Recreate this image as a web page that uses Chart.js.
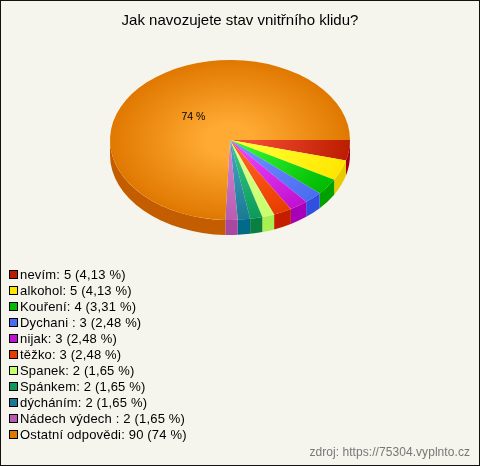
<!DOCTYPE html>
<html>
<head>
<meta charset="utf-8">
<script src="https://cdn.jsdelivr.net/npm/chart.js@4"></script>
<style>
  html, body { margin: 0; padding: 0; background: #f5f5ed; }
  canvas { display: block; }
</style>
</head>
<body>
<canvas id="pie" width="480" height="466"></canvas>
<script>
const chartTitle = 'Jak navozujete stav vnitřního klidu?';
const sourceText = 'zdroj: https://75304.vyplnto.cz';
const categories = ['nevím', 'alkohol', 'Kouření', 'Dychani ', 'nijak', 'těžko', 'Spanek', 'Spánkem', 'dýcháním', 'Nádech výdech ', 'Ostatní odpovědi'];
const values = [5, 5, 4, 3, 3, 3, 2, 2, 2, 2, 90];
const percents = ['4,13', '4,13', '3,31', '2,48', '2,48', '2,48', '1,65', '1,65', '1,65', '1,65', '74'];
const sliceLabels = ['', '', '', '', '', '', '', '', '', '', '74 %'];

const baseColors = ['#bc1c00', '#ffe600', '#00bb00', '#4a6cf0', '#c010d0', '#e83c00', '#c8ff6c', '#0a9a5a', '#1a7a94', '#b85cb0', '#e07800'];
const lightColors = ['#f04a30', '#ffff30', '#30f030', '#6c8cff', '#e840f8', '#ff6020', '#d8ff90', '#30c080', '#40a0b8', '#d080d0', '#ffaa33'];
const sideColors = ['#a80010', '#e8cc00', '#00a000', '#3050e0', '#a800b8', '#c41e00', '#a8f050', '#0a8040', '#006a88', '#a848a0', '#c45c00'];

const PIE_CX = 230;
const PIE_CY = 140;
const SQUASH = 2 / 3;
const DEPTH = 15;
const BG = '#f5f5ed';

function sliceFill(ctx) {
  const area = ctx.chart.chartArea;
  if (!area) return baseColors[ctx.dataIndex];
  const x = (area.left + area.right) / 2, y = (area.top + area.bottom) / 2;
  const r = Math.min(area.right - area.left, area.bottom - area.top) / 2;
  const g = ctx.chart.ctx.createRadialGradient(x, y, 0, x, y, r);
  g.addColorStop(0, lightColors[ctx.dataIndex]);
  g.addColorStop(0.2, lightColors[ctx.dataIndex]);
  g.addColorStop(1, baseColors[ctx.dataIndex]);
  return g;
}

// squashes the round pie to an ellipse and puts the side wall under it
const tiltPlugin = {
  id: 'tilt',
  beforeDatasetsDraw(chart) {
    const c = chart.ctx;
    const arcs = chart.getDatasetMeta(0).data;
    const cx = arcs[0].x, cy = arcs[0].y, r = arcs[0].outerRadius;
    arcs.forEach((arc, i) => {
      const a0 = Math.max(arc.startAngle, 0);
      const a1 = Math.min(arc.endAngle, Math.PI);
      if (a1 <= a0) return;
      c.beginPath();
      c.ellipse(PIE_CX, PIE_CY + DEPTH, r, r * SQUASH, 0, a0, a1);
      c.ellipse(PIE_CX, PIE_CY, r, r * SQUASH, 0, a1, a0, true);
      c.closePath();
      c.fillStyle = sideColors[i];
      c.fill();
    });
    c.save();
    c.translate(PIE_CX, PIE_CY);
    c.scale(1, SQUASH);
    c.translate(-cx, -cy);
  },
  afterDatasetsDraw(chart) {
    const c = chart.ctx;
    c.restore();
    // percent label on the big slice
    const arcs = chart.getDatasetMeta(0).data;
    c.font = '10.5px "Liberation Sans"';
    c.fillStyle = '#000';
    c.textAlign = 'center';
    c.textBaseline = 'middle';
    arcs.forEach((arc, i) => {
      if (!sliceLabels[i]) return;
      const mid = (arc.startAngle + arc.endAngle) / 2;
      const d = arc.outerRadius * 0.44;
      c.fillText(sliceLabels[i], PIE_CX + Math.cos(mid) * d, PIE_CY + Math.sin(mid) * d * SQUASH + 2);
    });
  },
  afterDraw(chart) {
    const c = chart.ctx;
    c.save();
    c.font = '13px "Liberation Sans"';
    c.letterSpacing = '0.18px';
    c.textBaseline = 'middle';
    c.textAlign = 'left';
    categories.forEach((name, i) => {
      const y = 274 + i * 16;
      c.fillStyle = baseColors[i];
      c.fillRect(9, y - 4, 8, 8);
      c.strokeStyle = '#000';
      c.lineWidth = 1;
      c.strokeRect(9.5, y - 3.5, 8, 8);
      c.fillStyle = '#000';
      c.fillText(name + ': ' + values[i] + ' (' + percents[i] + ' %)', 20, y + 1);
    });
    c.font = '12px "Liberation Sans"';
    c.letterSpacing = '0.06px';
    c.fillStyle = '#777';
    c.textAlign = 'right';
    c.fillText(sourceText, 470, 453);
    c.strokeStyle = '#111';
    c.lineWidth = 1;
    c.strokeRect(0.5, 0.5, 479, 465);
    c.restore();
  }
};

new Chart(document.getElementById('pie'), {
  type: 'pie',
  data: {
    labels: categories,
    datasets: [{
      data: values,
      backgroundColor: sliceFill,
      borderWidth: 0
    }]
  },
  options: {
    responsive: false,
    animation: false,
    rotation: 90,
    layout: { padding: { left: 120, right: 120, top: 2, bottom: 180 } },
    plugins: {
      legend: { display: false },
      tooltip: { enabled: false },
      title: {
        display: true,
        text: chartTitle,
        color: '#000',
        font: { family: '"Liberation Sans"', size: 15, weight: 'normal' },
        padding: { top: 10, bottom: 10 }
      }
    }
  },
  plugins: [tiltPlugin, {
    id: 'bg',
    beforeDraw(chart) {
      chart.ctx.fillStyle = BG;
      chart.ctx.fillRect(0, 0, chart.width, chart.height);
    }
  }]
});
</script>
</body>
</html>
